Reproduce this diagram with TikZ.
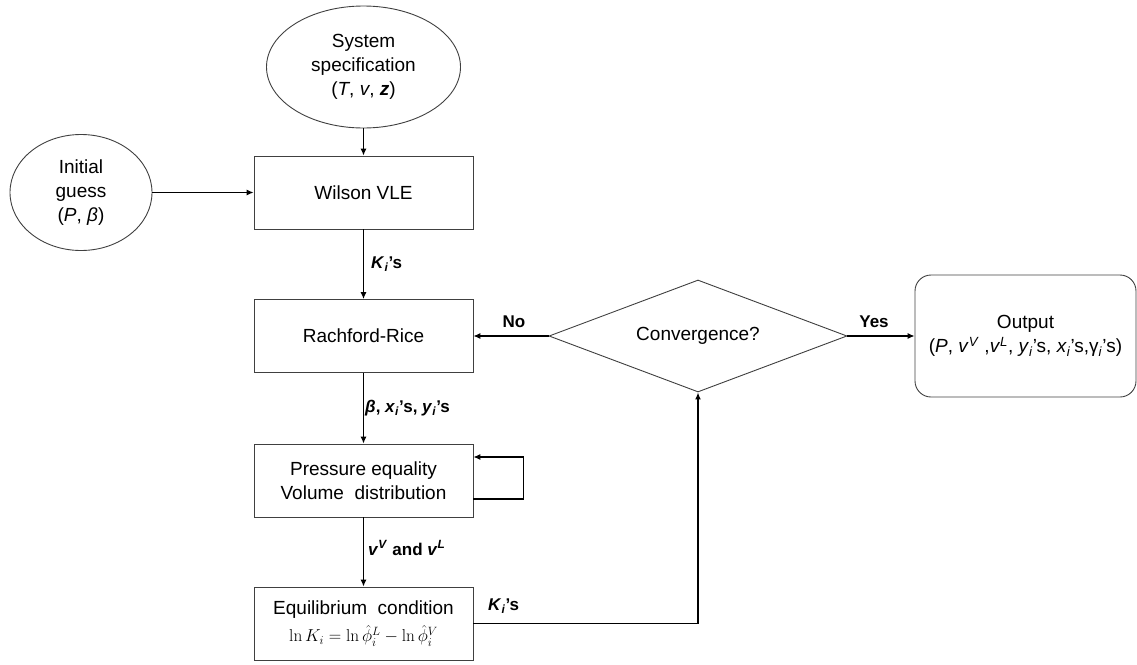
\documentclass[tikz,border=0pt]{standalone}
\usepackage[no-math]{fontspec}
\setmainfont{Liberation Sans}
\usetikzlibrary{shapes.geometric,arrows.meta}
\tikzset{
  base/.style={draw=black!75, line width=0.9pt, inner sep=0pt, align=center, font=\fontsize{19}{24}\selectfont},
  proc/.style={base, rectangle, minimum width=219pt, minimum height=73pt},
  ell/.style={base, ellipse},
  dec/.style={base, diamond, aspect=2.66, minimum width=298pt, minimum height=112pt},
  outbox/.style={base, rectangle, rounded corners=16pt, minimum width=221pt, minimum height=122pt},
  arr/.style={draw=black, line width=1.1pt, -{Latex[length=7pt,width=6pt]}},
  lbl/.style={inner sep=0pt, font=\fontsize{17}{20}\selectfont\bfseries}
}
\begin{document}
\begin{tikzpicture}[x=1pt,y=-1pt]
\useasboundingbox (0,0) rectangle (1137,664);
\node[ell, minimum width=194pt, minimum height=122pt] (sys) at (363.5,67) {System\\specification\\(\textit{T}, \textit{v}, \textbf{\textit{z}})};
\node[ell, minimum width=142pt, minimum height=116pt] (init) at (81,192.5) {Initial\\guess\\(\textit{P}, \textit{β})};
\node[proc] (wil) at (363.5,192.5) {Wilson VLE};
\node[proc] (rr) at (363.5,336) {Rachford-Rice};
\node[proc] (pe) at (363.5,480.5) {Pressure equality\\Volume\ \ distribution};
\node[proc] (eq) at (363.5,623.5) {Equilibrium\ \ condition\\[3pt]{\fontsize{18}{20}\selectfont$\ln K_i = \ln \hat{\phi}_i^{L} - \ln \hat{\phi}_i^{V}$}};
\node[dec] (conv) at (698,336) {Convergence?};
\node[outbox] (out) at (1025.5,336) {Output\\(\textit{P}, \textit{v}\textsuperscript{\textit{V}} ,\textit{v}\textsuperscript{\textit{L}}, \textit{y}\textsubscript{\textit{i}}’s, \textit{x}\textsubscript{\textit{i}}’s,γ\textsubscript{\textit{i}}’s)};

\draw[arr] (sys) -- (wil);
\draw[arr] (init) -- (wil);
\draw[arr] (wil) -- (rr);
\draw[arr] (rr) -- (pe);
\draw[arr] (pe) -- (eq);
\draw[arr] ([yshift=-18.5pt]pe.east) -- ++(50,0) |- ([yshift=23.5pt]pe.east);
\draw[arr, line width=1.6pt] (eq.east) -| (conv.south);
\draw[arr] (conv.west) -- (rr.east);
\draw[arr] (conv.east) -- (out.west);

\node[lbl, anchor=west] (l1) at (371,264) {\textit{K}\textsubscript{\textit{i}}’s};
\node[lbl, anchor=west] (l2) at (365,408) {\textit{β}, \textit{x}\textsubscript{\textit{i}}’s, \textit{y}\textsubscript{\textit{i}}’s};
\node[lbl, anchor=west] (l3) at (368,548) {\textit{v}\textsuperscript{\textit{V}} and \textit{v}\textsuperscript{\textit{L}}};
\node[lbl, anchor=west] (l4) at (488,606) {\textit{K}\textsubscript{\textit{i}}’s};
\node[lbl] (lno) at (514,322) {No};
\node[lbl] (lyes) at (874,322) {Yes};
\end{tikzpicture}
\end{document}
